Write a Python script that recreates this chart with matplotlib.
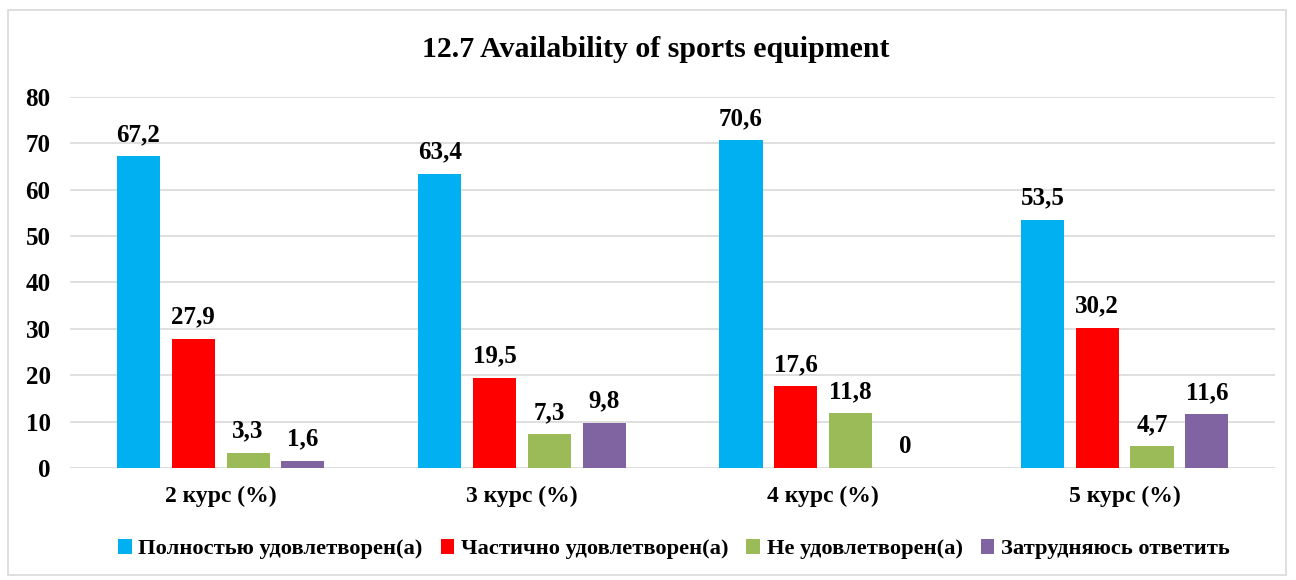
import numpy as np
import matplotlib.pyplot as plt
from matplotlib.patches import Rectangle

categories = ['2 курс (%)', '3 курс (%)', '4 курс (%)', '5 курс (%)']
series_names = ['Полностью удовлетворен(а)', 'Частично удовлетворен(а)',
                'Не удовлетворен(а)', 'Затрудняюсь ответить']
full = [67.2, 63.4, 70.6, 53.5]
partly = [27.9, 19.5, 17.6, 30.2]
not_sat = [3.3, 7.3, 11.8, 4.7]
unsure = [1.6, 9.8, 0, 11.6]
colors = ['#00B0F0', '#FF0000', '#9BBB59', '#8064A2']

plt.rcParams['font.family'] = ['Liberation Serif', 'DejaVu Serif']
plt.rcParams['font.weight'] = 'bold'

fig = plt.figure(figsize=(12.96, 5.8), dpi=100)
fig.patches.append(Rectangle((0.006, 0.008), 0.986, 0.975, transform=fig.transFigure,
                             fill=False, edgecolor='#D9D9D9', linewidth=1.2))
ax = fig.add_axes([0.054, 0.193, 0.93, 0.64])

x = np.arange(len(categories))
width = 0.143
step = 0.182
for i, (vals, name, c) in enumerate(zip([full, partly, not_sat, unsure], series_names, colors)):
    pos = x + (i - 1.5) * step
    bars = ax.bar(pos, vals, width, color=c, label=name, zorder=3)
    for b, v in zip(bars, vals):
        txt = ('%g' % v).replace('.', ',')
        ax.text(b.get_x() + b.get_width() / 2, v + 2.2, txt, ha='center', va='bottom',
                fontsize=18, fontweight='bold')

ax.set_xlim(-0.5, 3.5)
ax.set_ylim(0, 80)
ax.set_yticks(range(0, 81, 10))
ax.set_xticks(x)
ax.set_xticklabels(categories)
ax.tick_params(axis='y', length=0, labelsize=18, pad=14)
ax.tick_params(axis='x', length=0, labelsize=17, pad=13)
ax.grid(axis='y', color='#D9D9D9', linewidth=1.2, zorder=0)
for s in ax.spines.values():
    s.set_visible(False)

fig.text(0.506, 0.915, '12.7 Availability of sports equipment', ha='center', va='center',
         fontsize=21.5, fontweight='bold')

handles, labels = ax.get_legend_handles_labels()
fig.legend(handles, labels, loc='center', bbox_to_anchor=(0.52, 0.053), ncol=4, frameon=False,
           fontsize=16.2, handlelength=0.6, handleheight=0.6, handletextpad=0.3, columnspacing=0.8)

fig.savefig('out.png', dpi=100)
